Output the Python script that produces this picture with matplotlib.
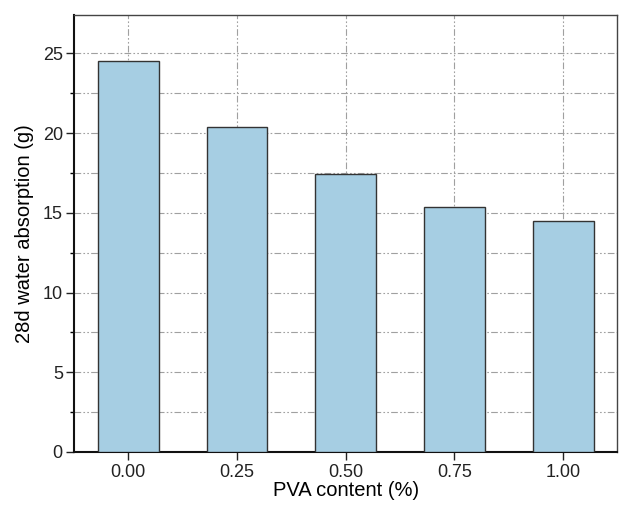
import numpy as np
import matplotlib
matplotlib.use("Agg")
from matplotlib import pyplot as plt
from matplotlib.ticker import MultipleLocator

# dados
pva = ["0.00", "0.25", "0.50", "0.75", "1.00"]
absorcao = [24.5, 20.4, 17.45, 15.4, 14.5]

plt.rcParams["font.family"] = ["Liberation Sans", "DejaVu Sans"]

fig = plt.figure(figsize=(6.19, 5.07), dpi=100)
ax = fig.add_axes([0.1195, 0.1085, 0.878, 0.8615])

x = np.arange(len(pva))
ax.bar(x, absorcao, width=0.56, color="#a6cee3", edgecolor="#333333",
       linewidth=1.0, zorder=3)

ax.set_xlim(-0.5, 4.5)
ax.set_ylim(0, 27.4)
ax.set_xticks(x)
ax.set_xticklabels(pva)
ax.yaxis.set_major_locator(MultipleLocator(5))
ax.yaxis.set_minor_locator(MultipleLocator(2.5))

estilo_grade = (0, (6, 2, 1.5, 2, 1.5, 2))
ax.grid(True, which="both", axis="y", color="#a0a0a0", linewidth=0.8,
        linestyle=estilo_grade, zorder=0)
ax.grid(True, which="major", axis="x", color="#a0a0a0", linewidth=0.8,
        linestyle=estilo_grade, zorder=0)

ax.tick_params(axis="both", which="major", direction="out", length=5.5,
               width=1, labelsize=13, colors="#222222", pad=2.5)
ax.tick_params(axis="x", which="major", pad=3.5)
ax.tick_params(axis="y", which="minor", direction="out", length=3, width=1)
ax.tick_params(axis="x", which="minor", bottom=False)

for lado in ["left", "bottom"]:
    ax.spines[lado].set_linewidth(1.5)
    ax.spines[lado].set_color("#111111")
for lado in ["top", "right"]:
    ax.spines[lado].set_linewidth(1.0)
    ax.spines[lado].set_color("#444444")

ax.set_xlabel("PVA content (%)", fontsize=14.5, labelpad=0)
ax.set_ylabel("28d water absorption (g)", fontsize=14.5, labelpad=6)

fig.savefig("out.png", dpi=100)
